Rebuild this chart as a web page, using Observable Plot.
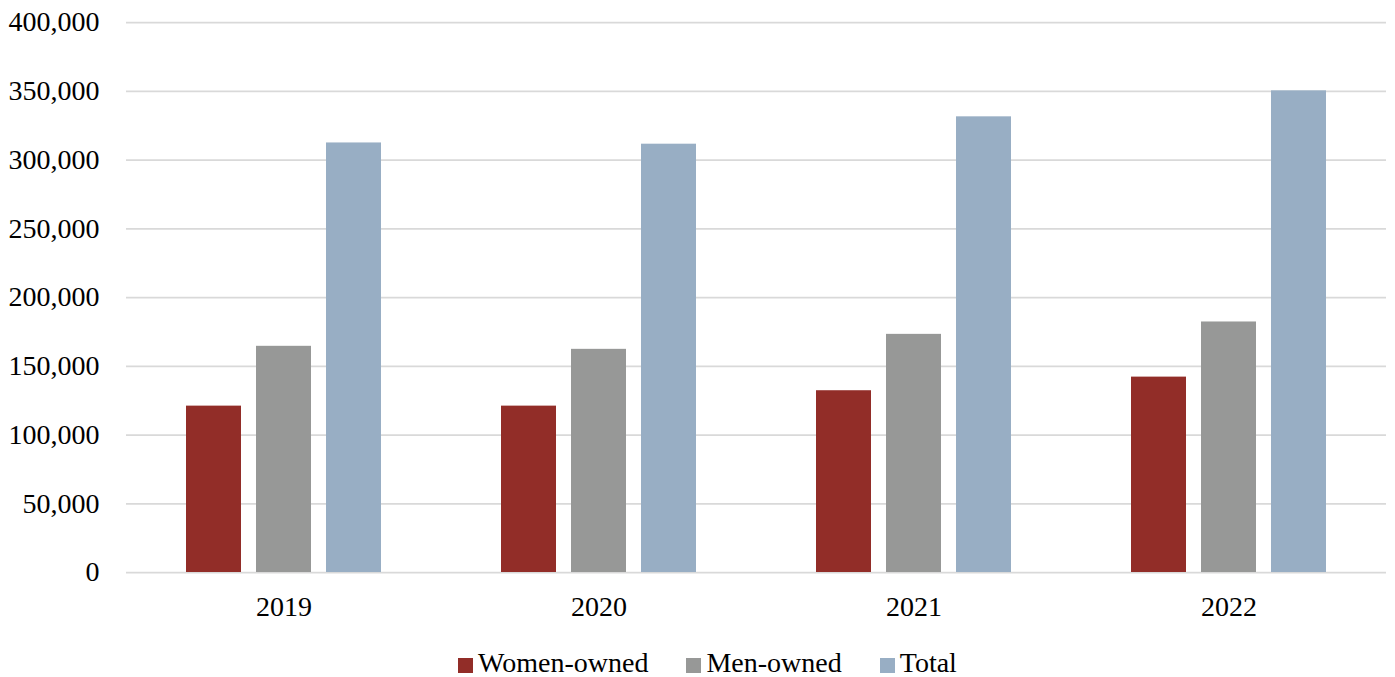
<!DOCTYPE html>
<html>
<head>
<meta charset="utf-8">
<script src="https://cdn.jsdelivr.net/npm/d3@7"></script>
<script src="https://cdn.jsdelivr.net/npm/@observablehq/plot@0.6"></script>
<style>
  html, body { margin: 0; padding: 0; background: #fff; }
  #chart { width: 1395px; font-family: "Liberation Serif", "Times New Roman", serif; }
  .legend { display: flex; justify-content: center; align-items: center; height: 28px; line-height: 28px;
            padding: 9px 0 0 20px; font-size: 28px; color: #000; }
  .legend .item { display: flex; align-items: center; margin: 0 19px; }
  .legend .swatch { width: 15px; height: 15px; margin-right: 5px; margin-top: 4px; }
</style>
</head>
<body>
<div id="chart"></div>
<script>
// Business counts by ownership, per year
const years = ["2019", "2020", "2021", "2022"];
const series = ["Women-owned", "Men-owned", "Total"];
const womenOwned = [121000, 121000, 132200, 142100];
const menOwned = [164500, 162300, 173200, 182200];
const total = [312400, 311500, 331400, 350300];
const colors = ["#922d28", "#979897", "#98aec4"];
const yTicks = [0, 50000, 100000, 150000, 200000, 250000, 300000, 350000, 400000];

const values = [womenOwned, menOwned, total];
const data = years.flatMap((year, i) =>
  series.map((s, j) => ({year, series: s, value: values[j][i]}))
);

const plot = Plot.plot({
  width: 1395,
  height: 640,
  marginLeft: 126,
  marginRight: 9,
  marginTop: 22,
  marginBottom: 68,
  style: {fontFamily: "'Liberation Serif', 'Times New Roman', serif", fontSize: "28px", color: "#000", background: "#fff"},
  fx: {domain: years, padding: 0, label: null, tickSize: 0, tickPadding: 24, axis: "bottom"},
  x: {domain: series, axis: null, paddingInner: 0.22, paddingOuter: 0.844},
  y: {domain: [0, 400000], ticks: yTicks, tickFormat: d3.format(","), tickSize: 0, tickPadding: 27, label: null},
  color: {domain: series, range: colors},
  marks: [
    Plot.ruleY(yTicks, {stroke: "#d9d9d9", strokeWidth: 1.75}),
    Plot.barY(data, {fx: "year", x: "series", y: "value", fill: "series"})
  ]
});

const chart = document.getElementById("chart");
chart.appendChild(plot);

// Legend below the plot
const legend = document.createElement("div");
legend.className = "legend";
series.forEach((s, i) => {
  const item = document.createElement("div");
  item.className = "item";
  const sw = document.createElement("span");
  sw.className = "swatch";
  sw.style.background = colors[i];
  const label = document.createElement("span");
  label.textContent = s;
  item.appendChild(sw);
  item.appendChild(label);
  legend.appendChild(item);
});
chart.appendChild(legend);
</script>
</body>
</html>
